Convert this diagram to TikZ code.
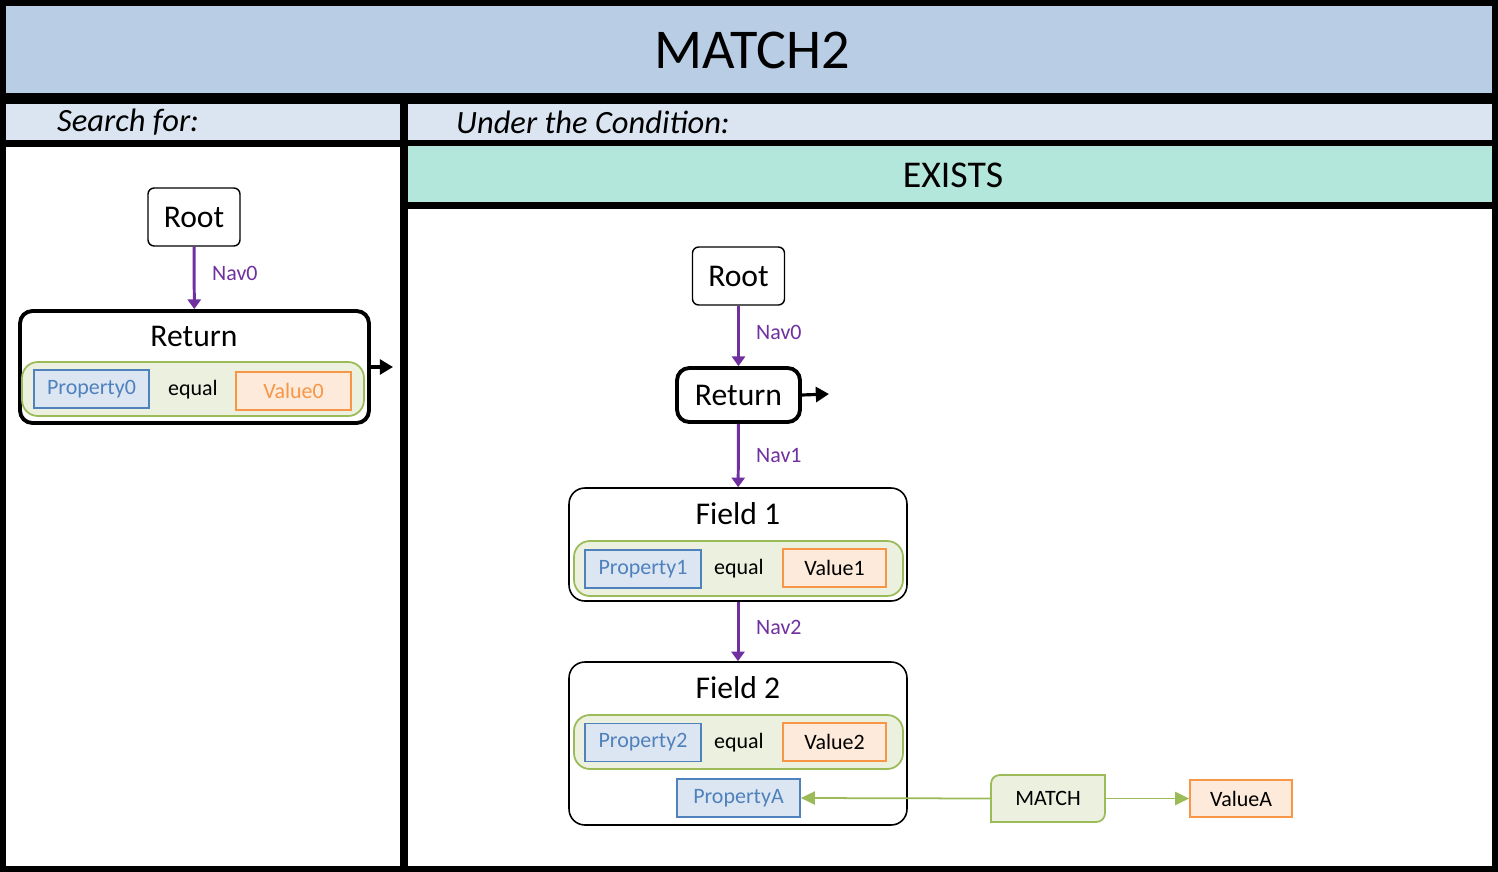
\documentclass[tikz,border=0pt]{standalone}
\usepackage{fontspec}
\setmainfont{Carlito}
\usepackage{tikz}
\usetikzlibrary{arrows.meta, positioning, calc}
\usepackage{xcolor}
\definecolor{titleblue}{RGB}{185,205,229}
\definecolor{bandblue}{RGB}{219,229,241}
\definecolor{existsteal}{RGB}{180,231,219}
\definecolor{condfill}{RGB}{235,241,222}
\definecolor{condline}{RGB}{155,187,89}
\definecolor{propfill}{RGB}{220,230,242}
\definecolor{propline}{RGB}{79,129,189}
\definecolor{valfill}{RGB}{253,234,218}
\definecolor{valline}{RGB}{247,150,70}
\definecolor{navpurple}{RGB}{112,48,160}

\begin{document}
\begin{tikzpicture}[x=0.02cm, y=-0.02cm,
  rootbox/.style={draw, fill=white, rounded corners=3.5pt, line width=0.8pt, minimum width=1.84cm, minimum height=1.16cm, font=\fontsize{18}{21}\selectfont},
  retbox/.style={draw, fill=white, rounded corners=7pt, line width=2.2pt},
  fieldbox/.style={draw, fill=white, rounded corners=9pt, line width=0.9pt, minimum width=6.76cm},
  condbox/.style={draw=condline, fill=condfill, rounded corners=9pt, line width=1pt},
  propbox/.style={draw=propline, fill=propfill, text=propline, line width=1pt, minimum height=0.76cm, font=\fontsize{12.5}{15}\selectfont},
  valbox/.style={draw=valline, fill=valfill, line width=1pt, minimum height=0.76cm, font=\fontsize{12.5}{15}\selectfont},
  plain/.style={font=\fontsize{12.5}{15}\selectfont},
  heading/.style={font=\fontsize{18}{21}\selectfont},
  nav/.style={draw=navpurple, line width=1.7pt, -{Triangle[width=7.5pt,length=5.5pt]}},
  navlabel/.style={text=navpurple, anchor=west, font=\fontsize{12.5}{15}\selectfont},
  outarrow/.style={draw, line width=1.8pt, -{Triangle[width=8.5pt,length=7.5pt]}},
  matcharrow/.style={draw=condline, line width=1pt, -{Triangle[width=7.5pt,length=8pt]}}]

  % frame and bands
  \fill[black] (0,0) rectangle (1498,872);
  \fill[titleblue] (6,6) rectangle (1492,93);
  \fill[bandblue] (6,104) rectangle (400,140);
  \fill[bandblue] (408,104) rectangle (1492,140);
  \fill[white] (6,147) rectangle (400,866);
  \fill[existsteal] (408,146) rectangle (1492,202);
  \fill[white] (408,209) rectangle (1492,866);

  \node[font=\fontsize{32}{38}\selectfont] (title) at (752,50) {MATCH2};
  \node[anchor=west, font=\fontsize{18.5}{22}\selectfont\itshape] (search) at (51,122) {Search for:};
  \node[anchor=west, font=\fontsize{18.5}{22}\selectfont\itshape] (under) at (450,122) {Under the Condition:};
  \node[font=\fontsize{21.5}{25}\selectfont] (exists) at (953,175) {EXISTS};

  % left panel
  \node[rootbox] (root0) at (194,217) {Root};
  \node[retbox, minimum width=6.98cm, minimum height=2.24cm] (ret0) at (194.5,367) {};
  \node[heading] (ret0t) at (194,336) {Return};
  \node[condbox, minimum width=6.84cm, minimum height=1.08cm] (cond0) at (193,389) {};
  \node[propbox, minimum width=2.3cm] (prop0) at (91.5,389) {Property0};
  \node[plain] (eq0) at (193,390) {equal};
  \node[valbox, minimum width=2.3cm, text=valline] (val0) at (293.5,391) {Value0};
  \coordinate (out0) at (393,367);
  \draw[nav] (root0) -- (ret0);
  \node[navlabel] (nav0l) at (206,273) {Nav0};
  \draw[outarrow] (ret0.east) -- (out0);

  % right panel
  \node[rootbox] (root1) at (738.5,276) {Root};
  \node[retbox, minimum width=2.46cm, minimum height=1.08cm, font=\fontsize{18}{21}\selectfont] (ret1) at (738.5,395) {Return};
  \coordinate (out1) at (829,394);
  \node[fieldbox, minimum height=2.26cm] (field1) at (738,544.5) {};
  \node[heading] (field1t) at (738,514) {Field 1};
  \node[condbox, minimum width=6.58cm, minimum height=1.1cm] (cond1) at (738.5,568.5) {};
  \node[propbox, minimum width=2.32cm] (prop1) at (643,569) {Property1};
  \node[plain] (eq1) at (739,569) {equal};
  \node[valbox, minimum width=2.06cm] (val1) at (834.5,568) {Value1};
  \node[fieldbox, minimum height=3.26cm] (field2) at (738,743.5) {};
  \node[heading] (field2t) at (738,688) {Field 2};
  \node[condbox, minimum width=6.58cm, minimum height=1.08cm] (cond2) at (738.5,742) {};
  \node[propbox, minimum width=2.32cm] (prop2) at (643,742.5) {Property2};
  \node[plain] (eq2) at (739,743) {equal};
  \node[valbox, minimum width=2.06cm] (val2) at (834.5,742) {Value2};
  \node[propbox, minimum width=2.46cm] (propA) at (738.5,798) {PropertyA};

  \draw[nav] (root1) -- (ret1);
  \node[navlabel] (nav0r) at (750,332) {Nav0};
  \draw[nav] (ret1) -- (field1);
  \node[navlabel] (nav1) at (750,456) {Nav1};
  \draw[nav] (field1) -- (field2);
  \node[navlabel] (nav2) at (750,627) {Nav2};
  \draw[outarrow] (ret1.east) -- (out1);

  % match operator
  \coordinate (mnw) at (991,775);
  \coordinate (mse) at (1105,822);
  \filldraw[draw=condline, fill=condfill, line width=1pt]
    (mse |- mnw) -- ([yshift=5pt]mse) arc[start angle=0, end angle=-90, radius=5pt]
    -- (mnw |- mse) -- ([yshift=-5pt]mnw) arc[start angle=180, end angle=90, radius=5pt] -- cycle;
  \node[plain, minimum width=2.28cm, minimum height=0.94cm] (match) at (1048,798.5) {MATCH};
  \node[valbox, minimum width=2.04cm, minimum height=0.74cm] (valA) at (1241,798.5) {ValueA};
  \draw[matcharrow] (match.west) -- (propA.east);
  \draw[matcharrow] (match.east) -- (valA.west);
\end{tikzpicture}
\end{document}
